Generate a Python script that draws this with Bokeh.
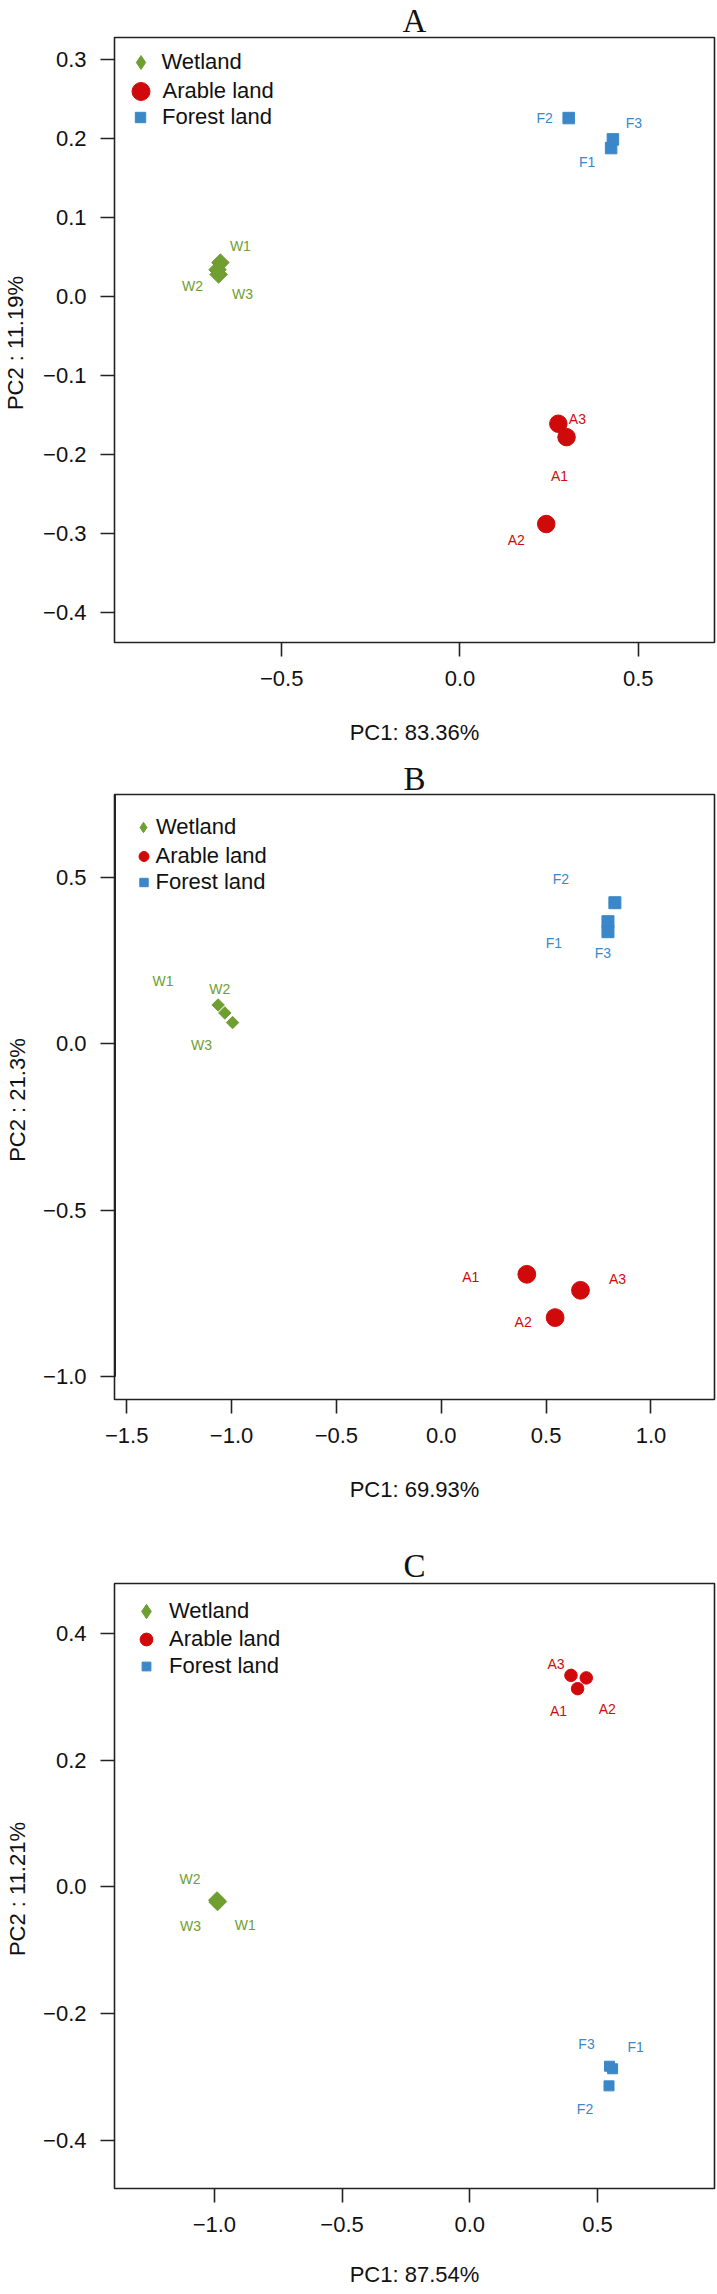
import math
from bokeh.plotting import figure
from bokeh.layouts import column
from bokeh.models import (Range1d, FixedTicker, Legend, LegendItem,
                          ColumnDataSource, CustomJSTickFormatter)
from bokeh.core.properties import value
from bokeh.embed import file_html
from bokeh.resources import INLINE

# ---------------- data ----------------
GROUPS = ["Wetland", "Arable land", "Forest land"]
W_LABELS = ["W1", "W2", "W3"]
A_LABELS = ["A1", "A2", "A3"]
F_LABELS = ["F1", "F2", "F3"]

# Panel A
A_TITLE = "A"
A_XLABEL = "PC1: 83.36%"
A_YLABEL = "PC2 :  11.19%"
A_W_X = [-0.672, -0.680, -0.677]
A_W_Y = [0.043, 0.034, 0.028]
A_A_X = [0.299, 0.242, 0.276]
A_A_Y = [-0.178, -0.288, -0.161]
A_F_X = [0.424, 0.305, 0.429]
A_F_Y = [0.188, 0.226, 0.199]
A_XTICKS = [-0.5, 0.0, 0.5]
A_XTICK_LABELS = ["\u22120.5", "0.0", "0.5"]
A_YTICKS = [0.3, 0.2, 0.1, 0.0, -0.1, -0.2, -0.3, -0.4]
A_YTICK_LABELS = ["0.3", "0.2", "0.1", "0.0", "\u22120.1", "\u22120.2", "\u22120.3", "\u22120.4"]

# Panel B
B_TITLE = "B"
B_XLABEL = "PC1: 69.93%"
B_YLABEL = "PC2 :  21.3%"
B_W_X = [-1.064, -1.032, -0.995]
B_W_Y = [0.117, 0.093, 0.064]
B_A_X = [0.408, 0.543, 0.664]
B_A_Y = [-0.692, -0.822, -0.740]
B_F_X = [0.795, 0.828, 0.795]
B_F_Y = [0.367, 0.424, 0.337]
B_XTICKS = [-1.5, -1.0, -0.5, 0.0, 0.5, 1.0]
B_XTICK_LABELS = ["\u22121.5", "\u22121.0", "\u22120.5", "0.0", "0.5", "1.0"]
B_YTICKS = [0.5, 0.0, -0.5, -1.0]
B_YTICK_LABELS = ["0.5", "0.0", "\u22120.5", "\u22121.0"]

# Panel C
C_TITLE = "C"
C_XLABEL = "PC1: 87.54%"
C_YLABEL = "PC2 :  11.21%"
C_W_X = [-0.985, -0.990, -0.988]
C_W_Y = [-0.023, -0.021, -0.024]
C_A_X = [0.422, 0.456, 0.396]
C_A_Y = [0.313, 0.330, 0.334]
C_F_X = [0.559, 0.545, 0.547]
C_F_Y = [-0.287, -0.314, -0.283]
C_XTICKS = [-1.0, -0.5, 0.0, 0.5]
C_XTICK_LABELS = ["\u22121.0", "\u22120.5", "0.0", "0.5"]
C_YTICKS = [0.4, 0.2, 0.0, -0.2, -0.4]
C_YTICK_LABELS = ["0.4", "0.2", "0.0", "\u22120.2", "\u22120.4"]

# ---------------- style ----------------
GREEN = "#6F9E31"
RED = "#D00A0A"
BLUE = "#3B87C8"
SANS = "Liberation Sans"
SERIF = "Liberation Serif"
LINE = "#222222"
FS = "22px"

FMT_CODE = """
for (let i = 0; i < tv.length; i++) {
  if (Math.abs(tv[i] - tick) < 1e-9) { return tl[i]; }
}
return "";
"""


def add_legend_row(p, renderer, label, cx, cy, size, text_x, frame_h):
    gw = int(round(size / 0.4))
    gh = 50
    leg = Legend(items=[LegendItem(label=label, renderers=[renderer])],
                 location=(cx - gw / 2.0, frame_h - cy - gh / 2.0),
                 glyph_width=gw, glyph_height=gh,
                 label_standoff=int(round(text_x - cx - gw / 2.0)),
                 padding=0, margin=0, spacing=0,
                 border_line_color=None, background_fill_alpha=0,
                 label_text_font=SANS, label_text_font_size=FS,
                 label_text_color="#111111", label_height=20)
    p.add_layout(leg)


def make_panel(cfg):
    fw = 717
    p = figure(width=fw, height=cfg["height"],
               x_range=Range1d(*cfg["xr"]), y_range=Range1d(*cfg["yr"]),
               output_backend="svg", toolbar_location=None,
               min_border_left=cfg["bl"], min_border_right=cfg["br"],
               min_border_top=cfg["bt"], min_border_bottom=cfg["bb"])
    frame_h = cfg["height"] - cfg["bt"] - cfg["bb"]
    p.grid.visible = False
    p.background_fill_color = "white"
    p.border_fill_color = "white"
    p.outline_line_color = LINE
    p.outline_line_width = 1.6

    p.title.text = cfg["title"]
    p.title.align = "center"
    p.title.standoff = cfg["tso"]
    p.title.text_font = SERIF
    p.title.text_font_size = "33px"
    p.title.text_font_style = "normal"
    p.title.text_color = "#111111"

    for ax, ticks, labels in ((p.xaxis[0], cfg["xt"], cfg["xtl"]),
                              (p.yaxis[0], cfg["yt"], cfg["ytl"])):
        ax.ticker = FixedTicker(ticks=ticks, minor_ticks=[])
        ax.formatter = CustomJSTickFormatter(args=dict(tv=ticks, tl=labels), code=FMT_CODE)
        ax.axis_line_color = None
        ax.major_tick_line_color = LINE
        ax.major_tick_line_width = 1.6
        ax.major_tick_out = 14
        ax.major_tick_in = 0
        ax.minor_tick_line_color = None
        ax.major_label_text_font = SANS
        ax.major_label_text_font_size = FS
        ax.major_label_text_color = "#111111"
        ax.major_label_standoff = 14
        ax.axis_label_text_font = SANS
        ax.axis_label_text_font_size = FS
        ax.axis_label_text_font_style = "normal"
        ax.axis_label_text_color = "#111111"
    p.xaxis.axis_label = cfg["xlabel"]
    p.yaxis.axis_label = cfg["ylabel"]
    p.xaxis.axis_label_standoff = cfg["xls"]
    p.yaxis.axis_label_standoff = cfg["yls"]

    if cfg.get("thick_left"):
        xr0 = cfg["xr"][0]
        p.segment(x0=[xr0], y0=[cfg["yt"][-1]], x1=[xr0], y1=[cfg["yr"][1]],
                  line_color=LINE, line_width=3)

    sz = cfg["sizes"]
    p.scatter(x=cfg["W"][0], y=cfg["W"][1], marker="square", angle=math.pi / 4,
              size=sz["W"], fill_color=GREEN, line_color=GREEN)
    ra = p.scatter(x=cfg["Ar"][0], y=cfg["Ar"][1], marker="circle",
                   size=sz["A"], fill_color=RED, line_color=RED)
    rf = p.scatter(x=cfg["F"][0], y=cfg["F"][1], marker="square",
                   size=sz["F"], fill_color=BLUE, line_color=BLUE)
    # diamond legend key for the wetland group (zero size on the plot itself)
    rw_key = p.scatter(x=cfg["W"][0], y=cfg["W"][1], marker="diamond", size=0,
                       fill_color=GREEN, line_color=GREEN)

    for key, names, color in (("W", W_LABELS, GREEN), ("Ar", A_LABELS, RED), ("F", F_LABELS, BLUE)):
        xs, ys = cfg[key]
        dx, dy = cfg["off"][key]
        src = ColumnDataSource(dict(x=xs, y=ys, t=names, dx=dx, dy=dy))
        p.text(x="x", y="y", text="t", x_offset="dx", y_offset="dy", source=src,
               text_font=value(SANS), text_font_size="14px", text_color=color,
               text_align="center", text_baseline="middle")

    lg = cfg["legend"]
    for r, name, key in ((rw_key, GROUPS[0], "W"), (ra, GROUPS[1], "A"), (rf, GROUPS[2], "F")):
        cx, cy, s = lg[key]
        add_legend_row(p, r, name, cx, cy, s, lg["tx"], frame_h)
    return p


cfgA = dict(height=758, bl=110, br=2, bt=37, bb=116,
            xr=(-0.969, 0.714), yr=(-0.438, 0.328),
            xt=A_XTICKS, xtl=A_XTICK_LABELS, yt=A_YTICKS, ytl=A_YTICK_LABELS,
            xlabel=A_XLABEL, ylabel=A_YLABEL, xls=31, yls=12,
            W=(A_W_X, A_W_Y), Ar=(A_A_X, A_A_Y), F=(A_F_X, A_F_Y),
            sizes=dict(W=12.4, A=17.5, F=11.5),
            off=dict(W=([20, -25, 24], [-17, 16, 20]),
                     Ar=([-7, -30, 19], [39, 16, -5]),
                     F=([-24, -24, 21], [14, 0, -16])),
            legend=dict(W=(26, 25, 14), A=(26, 54, 18), F=(26, 80, 10.5), tx=48),
            title=A_TITLE, tso=-2)

cfgB = dict(height=787, bl=108, br=1, bt=36, bb=146,
            xr=(-1.558, 1.303), yr=(-1.068, 0.749),
            xt=B_XTICKS, xtl=B_XTICK_LABELS, yt=B_YTICKS, ytl=B_YTICK_LABELS,
            xlabel=B_XLABEL, ylabel=B_YLABEL, xls=31, yls=10,
            W=(B_W_X, B_W_Y), Ar=(B_A_X, B_A_Y), F=(B_F_X, B_F_Y),
            sizes=dict(W=8.8, A=17.8, F=12),
            off=dict(W=([-55, -5, -31], [-24, -24, 22]),
                     Ar=([-56, -32, 37], [3, 4, -11]),
                     F=([-54, -54, -5], [21, -24, 21])),
            legend=dict(W=(29, 33, 10.5), A=(29, 62, 10), F=(29, 88, 8.5), tx=41),
            title=B_TITLE, tso=-4, thick_left=True)

cfgC = dict(height=749, bl=108, br=3, bt=38, bb=106,
            xr=(-1.391, 0.958), yr=(-0.476, 0.479),
            xt=C_XTICKS, xtl=C_XTICK_LABELS, yt=C_YTICKS, ytl=C_YTICK_LABELS,
            xlabel=C_XLABEL, ylabel=C_YLABEL, xls=27, yls=10,
            W=(C_W_X, C_W_Y), Ar=(C_A_X, C_A_Y), F=(C_F_X, C_F_Y),
            sizes=dict(W=12, A=12.5, F=10),
            off=dict(W=([27, -27, -27], [23, -21, 24]),
                     Ar=([-19, 21, -15], [22, 31, -11]),
                     F=([23, -24, -23], [-22, 23, -22])),
            legend=dict(W=(32, 28, 14.5), A=(32, 56, 12.7), F=(32, 83, 9), tx=55),
            title=C_TITLE, tso=-1)

layout = column(make_panel(cfgA), make_panel(cfgB), make_panel(cfgC), spacing=0)

with open("out.html", "w") as f:
    f.write(file_html(layout, INLINE))
